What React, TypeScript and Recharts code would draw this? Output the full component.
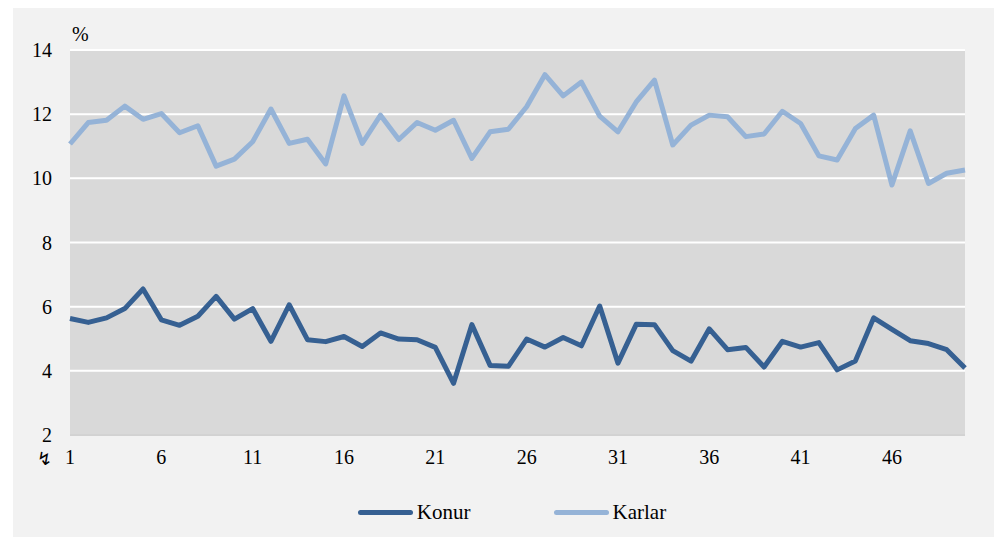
import { LineChart, Line, XAxis, YAxis, CartesianGrid, Legend } from 'recharts';

const periods = Array.from({ length: 50 }, (_, i) => i + 1);

const konur = [
  5.63, 5.51, 5.65, 5.94, 6.55, 5.59, 5.42, 5.7, 6.32, 5.61,
  5.94, 4.92, 6.06, 4.97, 4.91, 5.07, 4.76, 5.18, 4.99, 4.97,
  4.73, 3.61, 5.44, 4.17, 4.14, 4.99, 4.74, 5.04, 4.78, 6.02,
  4.24, 5.45, 5.44, 4.63, 4.3, 5.31, 4.66, 4.73, 4.12, 4.92,
  4.74, 4.88, 4.03, 4.31, 5.65, 5.29, 4.94, 4.85, 4.66, 4.09,
];

const karlar = [
  11.07, 11.74, 11.81, 12.25, 11.84, 12.02, 11.42, 11.64, 10.38, 10.6,
  11.14, 12.16, 11.09, 11.22, 10.45, 12.57, 11.09, 11.97, 11.21, 11.74,
  11.5, 11.81, 10.62, 11.45, 11.53, 12.23, 13.23, 12.57, 13.0, 11.94,
  11.45, 12.38, 13.06, 11.04, 11.66, 11.97, 11.92, 11.3, 11.38, 12.09,
  11.71, 10.7, 10.57, 11.55, 11.97, 9.79, 11.48, 9.84, 10.16, 10.26,
];

const xTicks = [1, 6, 11, 16, 21, 26, 31, 36, 41, 46];
const yTicks = [2, 4, 6, 8, 10, 12, 14];

const seriesInfo = [
  { key: 'Konur', color: '#366092' },
  { key: 'Karlar', color: '#95b3d7' },
];

const data = periods.map((p, i) => ({ p, Konur: konur[i], Karlar: karlar[i] }));

const FONT = '"Liberation Serif", "DejaVu Serif", serif';

const LegendContent = () => (
  <div style={{ display: 'flex', justifyContent: 'center', height: 24, alignItems: 'center', fontFamily: FONT, fontSize: 21, color: '#000', paddingLeft: 46 }}>
    {seriesInfo.map((s, i) => (
      <div key={s.key} style={{ display: 'flex', alignItems: 'center', marginLeft: i ? 83 : 0 }}>
        <span style={{ display: 'inline-block', width: 55, height: 5, borderRadius: 3, background: s.color, marginRight: 4 }} />
        <span>{s.key}</span>
      </div>
    ))}
  </div>
);

export default function App() {
  return (
    <div style={{ position: 'relative', width: 984, height: 529, marginLeft: 5, background: '#f2f2f2' }}>
      <span style={{ position: 'absolute', left: 59, top: 15, fontFamily: FONT, fontSize: 20 }}>%</span>
      <span style={{ position: 'absolute', left: 24, top: 440, fontFamily: '"DejaVu Sans", sans-serif', fontSize: 18 }}>↯</span>
      <LineChart
        width={984}
        height={529}
        data={data}
        margin={{ top: 42, right: 32, left: 0, bottom: 13 }}
      >
        <CartesianGrid vertical={false} stroke="#ffffff" strokeWidth={2} fill="#d9d9d9" />
        <XAxis
          dataKey="p"
          type="number"
          domain={[1, 50]}
          ticks={xTicks}
          interval={0}
          height={65}
          tickSize={0}
          tickMargin={15}
          stroke="#a6a6a6"
          tick={{ fill: '#000', fontSize: 20, fontFamily: FONT }}
        />
        <YAxis
          domain={[2, 14]}
          ticks={yTicks}
          width={57}
          axisLine={false}
          tickLine={false}
          tickSize={0}
          tickMargin={18}
          tick={{ fill: '#000', fontSize: 20, fontFamily: FONT }}
        />
        <Legend verticalAlign="bottom" content={<LegendContent />} />
        {seriesInfo.map((s) => (
          <Line
            key={s.key}
            type="linear"
            dataKey={s.key}
            stroke={s.color}
            strokeWidth={5}
            strokeLinejoin="round"
            dot={false}
            activeDot={false}
            isAnimationActive={false}
          />
        ))}
      </LineChart>
    </div>
  );
}
